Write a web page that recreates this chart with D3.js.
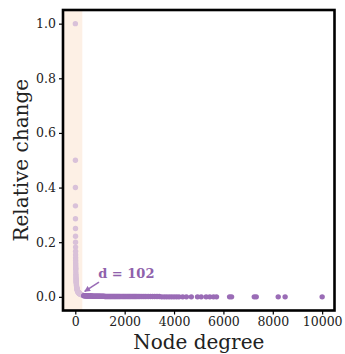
<!DOCTYPE html>
<html>
<head>
<meta charset="utf-8">
<script src="https://cdn.jsdelivr.net/npm/d3@7"></script>
<style>
  body { margin: 0; background: #fff; }
  svg { display: block; }
</style>
</head>
<body>
<div id="container"></div>
<script>
/* CONSTANTS AND GLOBALS */
const width = 345,
  height = 354,
  margin = { top: 10, bottom: 43.5, left: 63, right: 10.5 },
  radius = 2.7

/* DATA */
// low-degree nodes (shaded region)
const lowDegree = [2, 4, 5, 6, 7, 8, 9, 10, 11, 12, 13, 14, 15, 16, 17, 18, 19, 20,
  22, 24, 26, 28, 30, 32, 34, 36, 38, 40, 45, 50, 55, 60, 65, 70, 75, 80, 85, 90,
  95, 100, 110, 120, 130, 140, 150, 160, 170, 180, 190, 200, 215, 230, 245, 260, 275]
const lowChange = [1.0, 0.5, 0.4, 0.333, 0.286, 0.25, 0.222, 0.2, 0.182, 0.167, 0.154,
  0.143, 0.133, 0.125, 0.118, 0.111, 0.105, 0.1, 0.091, 0.083, 0.077, 0.071, 0.067,
  0.063, 0.059, 0.056, 0.053, 0.05, 0.044, 0.04, 0.036, 0.033, 0.031, 0.029, 0.027,
  0.025, 0.024, 0.022, 0.021, 0.02, 0.018, 0.017, 0.015, 0.014, 0.013, 0.0125, 0.012,
  0.011, 0.0105, 0.01, 0.0093, 0.0087, 0.0082, 0.0077, 0.0073]

// high-degree nodes
const highDegree = [340, 370, 400, 430, 460, 490, 520, 550, 580, 610, 640, 670, 700,
  730, 760, 790, 820, 850, 880, 910, 940, 970, 1000, 1040, 1080, 1120, 1160, 1200,
  1240, 1280, 1320, 1360, 1400, 1440, 1480, 1520, 1560, 1600, 1640, 1680, 1720, 1760,
  1800, 1850, 1900, 1950, 2000, 2050, 2100, 2150, 2200, 2250, 2300, 2350, 2400, 2450,
  2500, 2560, 2620, 2700, 2780, 2860, 2950, 3040, 3130, 3220, 3310, 3400, 3500, 3600,
  3700, 3800, 3900, 4000, 4100, 4200, 4350, 4500, 4700, 4950, 5100, 5300, 5450, 5600,
  5720, 6250, 6330, 7250, 7330, 8220, 8500, 10000]
const highChange = [0.004, 0.004, 0.004, 0.003, 0.003, 0.003, 0.003, 0.003, 0.003,
  0.003, 0.003, 0.003, 0.002, 0.002, 0.002, 0.002, 0.002, 0.002, 0.002, 0.002, 0.002,
  0.002, 0.002, 0.002, 0.002, 0.002, 0.002, 0.001, 0.001, 0.001, 0.001, 0.001, 0.001,
  0.001, 0.001, 0.001, 0.001, 0.001, 0.001, 0.001, 0.001, 0.001, 0.001, 0.001, 0.001,
  0.001, 0.001, 0.001, 0.001, 0.001, 0.001, 0.001, 0.001, 0.001, 0.001, 0.001, 0.001,
  0.001, 0.001, 0.001, 0.001, 0.001, 0.001, 0.001, 0.001, 0.001, 0.001, 0.001, 0.0,
  0.0, 0.0, 0.0, 0.0, 0.0, 0.0, 0.0, 0.0, 0.0, 0.0, 0.0, 0.0, 0.0, 0.0, 0.0, 0.0, 0.0,
  0.0, 0.0, 0.0, 0.0, 0.0, 0.0, 0.0]

const xTicks = [0, 2000, 4000, 6000, 8000, 10000]
const yTicks = [0.0, 0.2, 0.4, 0.6, 0.8, 1.0]
const shadeRange = [-498, 285]
const annotation = { label: "d = 102", textX: 930, textY: 0.069, tailX: 960, tailY: 0.054, headX: 380, headY: 0.02 }

const lowData = lowDegree.map((d, i) => ({ degree: d, change: lowChange[i] }))
const highData = highDegree.map((d, i) => ({ degree: d, change: highChange[i] }))

/* SCALES */
const xScale = d3.scaleLinear()
  .domain([-498, 10500])
  .range([margin.left, width - margin.right])

const yScale = d3.scaleLinear()
  .domain([-0.05, 1.05])
  .range([height - margin.bottom, margin.top])

const serif = "'DejaVu Serif', serif"
const purple = "#9a6cb6"

/* HTML ELEMENTS */
const svg = d3.select("#container")
  .append("svg")
  .attr("width", width)
  .attr("height", height)

// shaded span
svg.append("rect")
  .attr("x", xScale(shadeRange[0]))
  .attr("y", margin.top)
  .attr("width", xScale(shadeRange[1]) - xScale(shadeRange[0]))
  .attr("height", height - margin.bottom - margin.top)
  .attr("fill", "#fdf0e5")

// points
svg.selectAll(".low")
  .data(lowData)
  .join("circle")
  .attr("class", "low")
  .attr("cx", d => xScale(d.degree))
  .attr("cy", d => yScale(d.change))
  .attr("r", radius)
  .attr("fill", "#d9c1d9")

svg.selectAll(".high")
  .data(highData)
  .join("circle")
  .attr("class", "high")
  .attr("cx", d => xScale(d.degree))
  .attr("cy", d => yScale(d.change))
  .attr("r", radius)
  .attr("fill", purple)

// annotation
svg.append("defs").append("marker")
  .attr("id", "arrow")
  .attr("viewBox", "0 0 10 10")
  .attr("refX", 9).attr("refY", 5)
  .attr("markerWidth", 6).attr("markerHeight", 6)
  .attr("markerUnits", "userSpaceOnUse")
  .attr("orient", "auto")
  .append("path")
  .attr("d", "M0,0 L10,5 L0,10 z")
  .attr("fill", purple)

svg.append("line")
  .attr("x1", xScale(annotation.tailX))
  .attr("y1", yScale(annotation.tailY))
  .attr("x2", xScale(annotation.headX))
  .attr("y2", yScale(annotation.headY))
  .attr("stroke", purple)
  .attr("stroke-width", 1.6)
  .attr("marker-end", "url(#arrow)")

svg.append("text")
  .attr("x", xScale(annotation.textX))
  .attr("y", yScale(annotation.textY))
  .attr("font-family", serif)
  .attr("font-weight", "bold")
  .attr("font-size", 13)
  .attr("fill", "#8f61ab")
  .text(annotation.label)

// axes
const xAxis = d3.axisBottom(xScale).tickValues(xTicks).tickSize(4).tickPadding(2.5).tickFormat(d3.format("d"))
const yAxis = d3.axisLeft(yScale).tickValues(yTicks).tickSize(4).tickPadding(3).tickFormat(d3.format(".1f"))

const gx = svg.append("g")
  .attr("transform", `translate(0,${height - margin.bottom})`)
  .call(xAxis)
const gy = svg.append("g")
  .attr("transform", `translate(${margin.left},0)`)
  .call(yAxis)

for (const g of [gx, gy]) {
  g.select(".domain").remove()
  g.selectAll(".tick line").attr("stroke", "#000").attr("stroke-width", 1.2)
  g.selectAll(".tick text")
    .attr("font-family", serif)
    .attr("font-size", 12.5)
    .attr("fill", "#222")
}

// frame
svg.append("rect")
  .attr("x", margin.left)
  .attr("y", margin.top)
  .attr("width", width - margin.left - margin.right)
  .attr("height", height - margin.top - margin.bottom)
  .attr("fill", "none")
  .attr("stroke", "#000")
  .attr("stroke-width", 2.6)

// axis labels
svg.append("text")
  .attr("x", (margin.left + width - margin.right) / 2)
  .attr("y", 348.5)
  .attr("text-anchor", "middle")
  .attr("font-family", serif)
  .attr("font-size", 20)
  .attr("fill", "#222")
  .text("Node degree")

svg.append("text")
  .attr("transform", `translate(28,${(margin.top + height - margin.bottom) / 2}) rotate(-90)`)
  .attr("text-anchor", "middle")
  .attr("font-family", serif)
  .attr("font-size", 20)
  .attr("fill", "#222")
  .text("Relative change")
</script>
</body>
</html>
